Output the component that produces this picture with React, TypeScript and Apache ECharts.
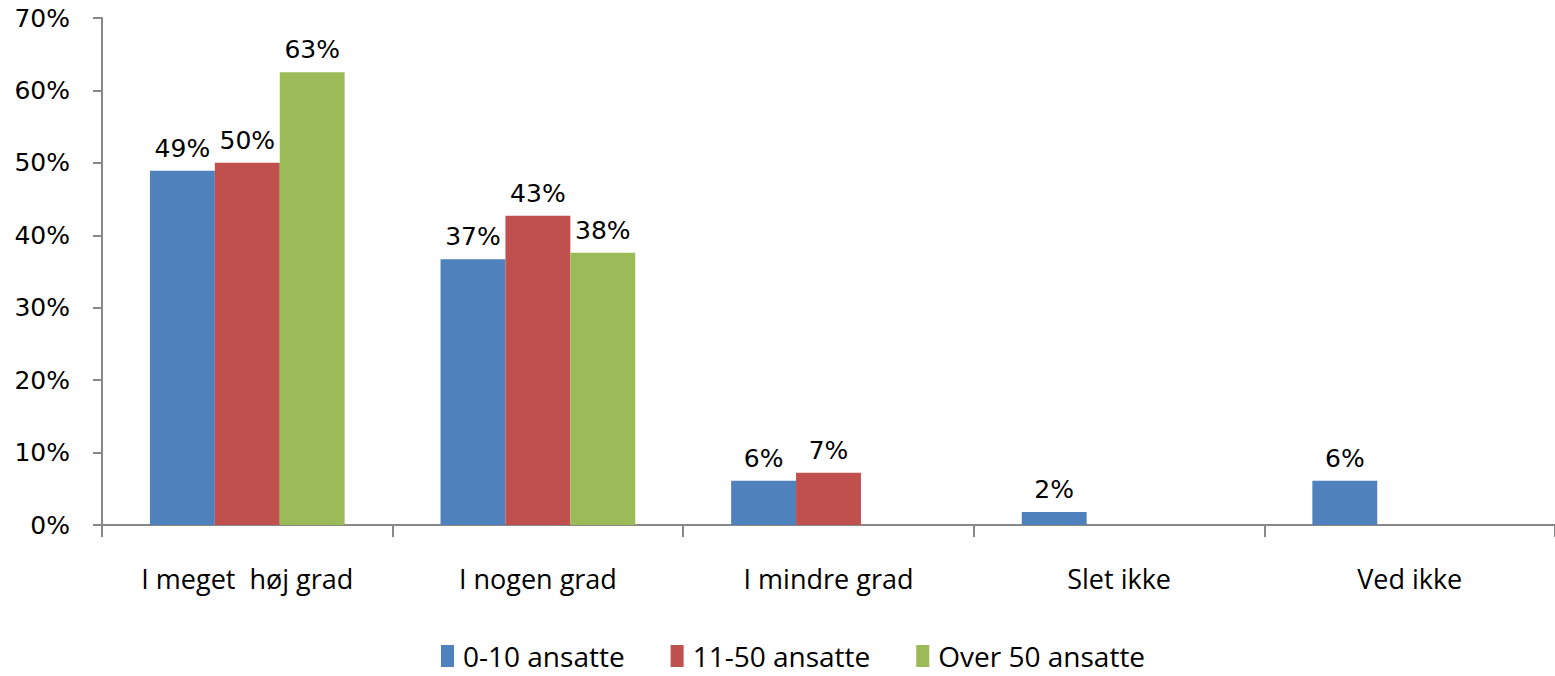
import React, { useEffect, useRef } from "react";
import * as echarts from "echarts";

const categories = ["I meget  høj grad", "I nogen grad", "I mindre grad", "Slet ikke", "Ved ikke"];
const seriesNames = ["0-10 ansatte", "11-50 ansatte", "Over 50 ansatte"];
const small = [48.9, 36.7, 6.1, 1.8, 6.1];
const medium = [50.0, 42.7, 7.2, null, null];
const large = [62.5, 37.6, null, null, null];
const colors = ["#4F81BD", "#C0504D", "#9BBB59"];
const yTicks = [0, 10, 20, 30, 40, 50, 60, 70];

export default function App() {
  const ref = useRef<HTMLDivElement>(null);
  useEffect(() => {
    if (!ref.current) return;
    const chart = echarts.init(ref.current, null, { renderer: "svg" });
    const numFont = "'DejaVu Sans', sans-serif";
    const txtFont = "'Open Sans', 'DejaVu Sans', sans-serif";
    const mk = (name: string, data: (number | null)[], color: string) => ({
      name,
      type: "bar",
      data,
      itemStyle: { color },
      barGap: "0%",
      barCategoryGap: "33%",
      label: {
        show: true,
        position: "top",
        distance: 10,
        fontSize: 25,
        color: "#000",
        fontFamily: numFont,
        formatter: (p: any) => (p.value == null ? "" : Math.round(p.value) + "%"),
      },
    });
    chart.setOption({
      animation: false,
      color: colors,
      grid: { left: 102, right: 0, top: 18, bottom: 151, containLabel: false },
      legend: {
        bottom: 1,
        left: 436,
        itemWidth: 13,
        itemHeight: 22,
        itemGap: 46,
        icon: "rect",
        textStyle: { fontSize: 28, color: "#000", fontFamily: txtFont, padding: [0, 0, 0, 4] },
        data: seriesNames,
      },
      xAxis: {
        type: "category",
        data: categories,
        axisLine: { lineStyle: { color: "#888", width: 2 } },
        axisTick: { show: true, length: 12, lineStyle: { color: "#888", width: 2 } },
        axisLabel: { margin: 40, fontSize: 27, color: "#000", fontFamily: txtFont },
      },
      yAxis: {
        type: "value",
        min: 0,
        max: 70,
        interval: 10,
        axisLine: { show: true, lineStyle: { color: "#888", width: 2 } },
        axisTick: { show: true, length: 9, lineStyle: { color: "#888", width: 2 } },
        splitLine: { show: false },
        axisLabel: {
          margin: 32,
          fontSize: 25,
          color: "#000",
          fontFamily: numFont,
          formatter: (v: number) => (yTicks.includes(v) ? v + "%" : ""),
        },
      },
      series: [mk(seriesNames[0], small, colors[0]), mk(seriesNames[1], medium, colors[1]), mk(seriesNames[2], large, colors[2])],
    });
    return () => chart.dispose();
  }, []);
  return <div ref={ref} style={{ position: "absolute", left: 0, top: 0, width: 1555, height: 676 }} />;
}
